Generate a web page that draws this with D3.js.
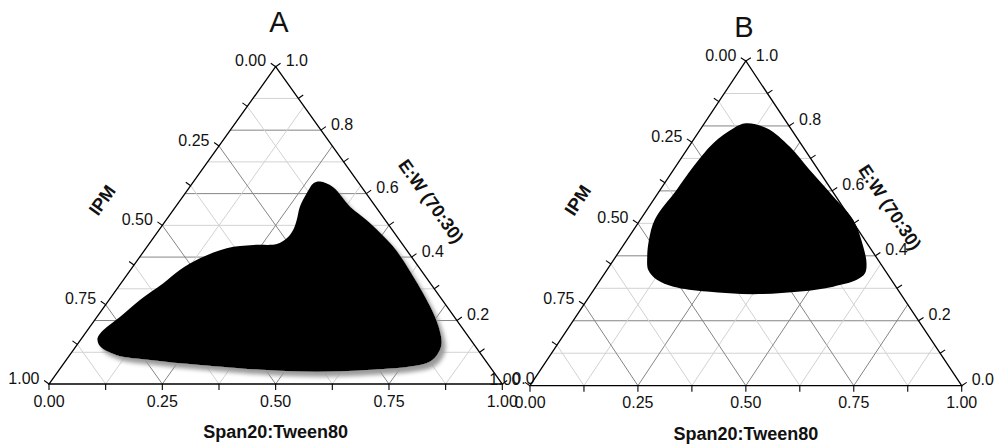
<!DOCTYPE html>
<html>
<head>
<meta charset="utf-8">
<script src="https://cdn.jsdelivr.net/npm/d3@7"></script>
<style>
  body { margin: 0; background: #fff; }
  text { font-family: "Liberation Sans", Arial, sans-serif; fill: #111; }
</style>
</head>
<body>
<script>
// ternary compositions: [Span20:Tween80, E:W (70:30)], IPM = 1 - span - ew
const regionA = [
  [0.279, 0.638], [0.316, 0.621], [0.385, 0.559], [0.442, 0.517], [0.543, 0.433],
  [0.635, 0.338], [0.719, 0.244], [0.769, 0.181], [0.802, 0.128], [0.810, 0.097],
  [0.805, 0.070], [0.769, 0.055], [0.679, 0.044], [0.571, 0.039], [0.458, 0.044],
  [0.303, 0.060], [0.185, 0.076], [0.104, 0.091], [0.054, 0.118], [0.035, 0.144],
  [0.035, 0.170], [0.051, 0.212], [0.068, 0.265], [0.093, 0.317], [0.109, 0.359],
  [0.135, 0.396], [0.178, 0.428], [0.232, 0.438], [0.282, 0.441], [0.295, 0.459],
  [0.296, 0.485], [0.288, 0.517], [0.274, 0.559], [0.268, 0.601], [0.267, 0.633]
]
const regionB = [
  [0.096, 0.808], [0.152, 0.793], [0.234, 0.736], [0.316, 0.664], [0.412, 0.582],
  [0.494, 0.510], [0.558, 0.428], [0.591, 0.377], [0.603, 0.346], [0.594, 0.326],
  [0.550, 0.305], [0.481, 0.290], [0.376, 0.282], [0.265, 0.290], [0.180, 0.305],
  [0.131, 0.326], [0.096, 0.356], [0.073, 0.397], [0.051, 0.449], [0.033, 0.513],
  [0.038, 0.603], [0.041, 0.675], [0.051, 0.747], [0.075, 0.793]
]

const fracTicks = [0, 0.125, 0.25, 0.375, 0.5, 0.625, 0.75, 0.875, 1]
const ewTicks = [0, 0.1, 0.2, 0.3, 0.4, 0.5, 0.6, 0.7, 0.8, 0.9, 1]
const fracLabels = ['0.00', '0.25', '0.50', '0.75', '1.00']
const ewLabels = ['0.0', '0.2', '0.4', '0.6', '0.8', '1.0']
const bottomTitle = 'Span20:Tween80'
const leftTitle = 'IPM'
const rightTitle = 'E:W (70:30)'

const panels = [
  {title: 'A', titleX: 279, titleY: 32, left: 49, right: 502.3, base: 384, top: 66.7,
   region: regionA, shadow: true, ipmOff: [-60, -25], ewOff: [42, -24]},
  {title: 'B', titleX: 744, titleY: 36.7, left: 530, right: 961.7, base: 385.7, top: 61,
   region: regionB, shadow: false, ipmOff: [-60, -23], ewOff: [36, -16]}
]

const svg = d3.select('body').append('svg')
  .attr('width', 995).attr('height', 447)

const defs = svg.append('defs')
const f = defs.append('filter').attr('id', 'shadow')
  .attr('x', '-10%').attr('y', '-10%').attr('width', '130%').attr('height', '130%')
f.append('feGaussianBlur').attr('in', 'SourceAlpha').attr('stdDeviation', 2.2)
f.append('feOffset').attr('dx', 4).attr('dy', 5).attr('result', 'b')
f.append('feFlood').attr('flood-color', '#9a9a9a')
f.append('feComposite').attr('in2', 'b').attr('operator', 'in')
const m = f.append('feMerge')
m.append('feMergeNode')
m.append('feMergeNode').attr('in', 'SourceGraphic')

const MAJOR = '#858585', MINOR = '#d2d2d2'

panels.forEach(p => {
  const x = d3.scaleLinear().domain([0, 1]).range([p.left, p.right])
  const y = d3.scaleLinear().domain([0, 1]).range([p.base, p.top])
  const pt = (s, e) => [x(s + e / 2), y(e)]
  const g = svg.append('g')

  const W = p.right - p.left, H = p.base - p.top
  const len = Math.hypot(H, W / 2)
  const nL = [-H / len, -W / 2 / len]
  const nR = [H / len, -W / 2 / len]

  const seg = (a, b, color, w) => g.append('line')
    .attr('x1', a[0]).attr('y1', a[1]).attr('x2', b[0]).attr('y2', b[1])
    .attr('stroke', color).attr('stroke-width', w || 1)

  // grid: constant E:W (horizontal)
  ewTicks.slice(1, -1).forEach((e, k) =>
    seg(pt(0, e), pt(1 - e, e), (k + 1) % 2 === 0 ? MAJOR : MINOR))
  // constant Span and constant IPM
  fracTicks.slice(1, -1).forEach((v, k) => {
    const c = (k + 1) % 2 === 0 ? MAJOR : MINOR
    seg(pt(v, 0), pt(v, 1 - v), c)
    seg(pt(1 - v, 0), pt(0, 1 - v), c)
  })

  // region
  const line = d3.line().curve(d3.curveCatmullRomClosed.alpha(0.5))
  const reg = g.append('path')
    .attr('d', line(p.region.map(([s, e]) => pt(s, e))))
    .attr('fill', '#000')
  if (p.shadow) reg.attr('filter', 'url(#shadow)')

  // triangle outline
  g.append('path')
    .attr('d', d3.line()([pt(0, 0), pt(1, 0), pt(0, 1)]) + 'Z')
    .attr('fill', 'none').attr('stroke', '#000').attr('stroke-width', 1.3)

  // ticks
  fracTicks.forEach(s => {
    const a = pt(s, 0)
    seg(a, [a[0], a[1] + 6], '#000', 1.1)
  })
  fracTicks.forEach(i => {
    const a = pt(0, 1 - i)
    seg(a, [a[0] + nL[0] * 6, a[1] + nL[1] * 6], '#000', 1.1)
  })
  ewTicks.forEach(e => {
    const a = pt(1 - e, e)
    seg(a, [a[0] + nR[0] * 6, a[1] + nR[1] * 6], '#000', 1.1)
  })

  // tick labels
  const tl = (xy, txt, anchor) => g.append('text')
    .attr('x', xy[0]).attr('y', xy[1])
    .attr('text-anchor', anchor).attr('dominant-baseline', 'central')
    .attr('font-size', 16).text(txt)
  fracLabels.forEach((t, k) => {
    const v = k / 4
    const b = pt(v, 0)
    tl([b[0], b[1] + 17], t, 'middle')
    const l = pt(0, 1 - v)
    tl([l[0] - 9.5, l[1] - 6], t, 'end')
  })
  ewLabels.forEach((t, k) => {
    const e = k / 5
    const r = pt(1 - e, e)
    tl([r[0] + 10, r[1] - 6], t, 'start')
  })

  // axis titles
  const ang = Math.atan2(H, W / 2) * 180 / Math.PI
  g.append('text')
    .attr('x', x(0.5)).attr('y', p.base + 54)
    .attr('text-anchor', 'middle').attr('font-size', 18).attr('font-weight', 'bold')
    .text(bottomTitle)
  const lm = pt(0, 0.5)
  g.append('text')
    .attr('transform', `translate(${lm[0] + p.ipmOff[0]},${lm[1] + p.ipmOff[1]}) rotate(${-ang})`)
    .attr('text-anchor', 'middle').attr('dominant-baseline', 'central')
    .attr('font-size', 18).attr('font-weight', 'bold').text(leftTitle)
  const rm = pt(0.5, 0.5)
  g.append('text')
    .attr('transform', `translate(${rm[0] + p.ewOff[0]},${rm[1] + p.ewOff[1]}) rotate(${ang})`)
    .attr('text-anchor', 'middle').attr('dominant-baseline', 'central')
    .attr('font-size', 18).attr('font-weight', 'bold').text(rightTitle)

  // panel title
  g.append('text')
    .attr('x', p.titleX).attr('y', p.titleY)
    .attr('text-anchor', 'middle').attr('font-size', 29)
    .text(p.title)
})
</script>
</body>
</html>
